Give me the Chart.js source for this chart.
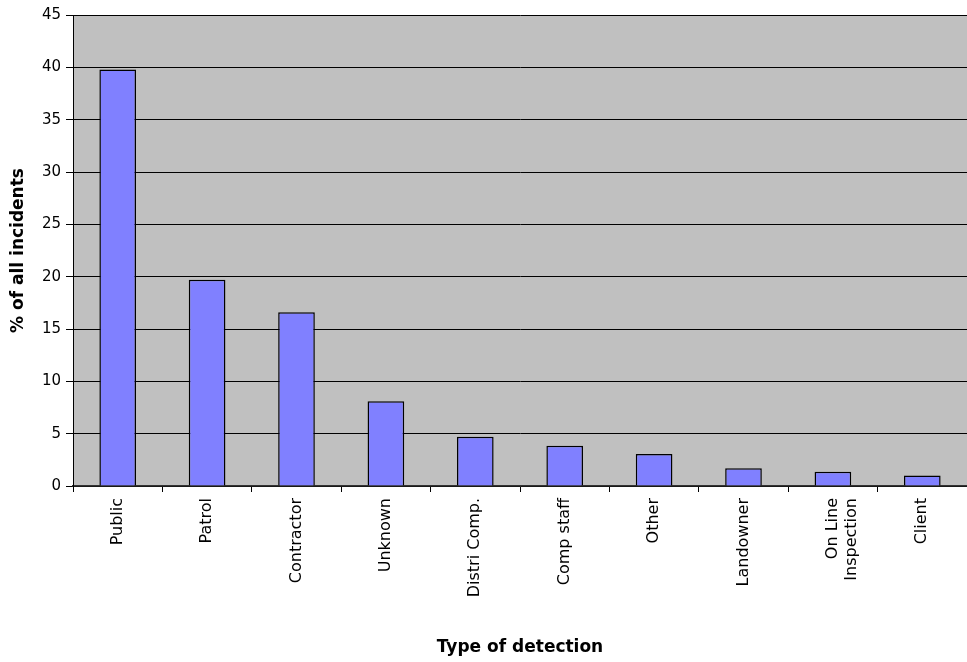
<!DOCTYPE html>
<html>
<head>
<meta charset="utf-8">
<script src="https://cdn.jsdelivr.net/npm/chart.js@4/dist/chart.umd.min.js"></script>
<style>
  html, body { margin: 0; padding: 0; background: #ffffff; }
  #wrap { width: 967px; height: 662px; position: relative; }
</style>
</head>
<body>
<div id="wrap"><canvas id="c" width="967" height="662"></canvas></div>
<script>
// Detection types and their share of all incidents (%)
const categories = [
  'Public', 'Patrol', 'Contractor', 'Unknown', 'Distri Comp.',
  'Comp staff', 'Other', 'Landowner', ['On Line', 'Inspection'], 'Client'
];
const shareOfIncidents = [39.8, 19.7, 16.6, 8.1, 4.7, 3.85, 3.05, 1.7, 1.35, 1.0];
const yTicks = [0, 5, 10, 15, 20, 25, 30, 35, 40, 45];

const xTitle = 'Type of detection';
const yTitle = '% of all incidents';

// Grey plot background behind the bars
const plotBackground = {
  id: 'plotBackground',
  beforeDraw(chart) {
    const { ctx, chartArea: a } = chart;
    ctx.save();
    ctx.fillStyle = '#c0c0c0';
    ctx.fillRect(a.left, a.top, a.right - a.left, a.bottom - a.top);
    ctx.restore();
  }
};

new Chart(document.getElementById('c'), {
  type: 'bar',
  data: {
    labels: categories,
    datasets: [{
      data: shareOfIncidents,
      backgroundColor: '#8080ff',
      borderColor: '#000000',
      borderWidth: 1.5,
      barPercentage: 0.41,
      categoryPercentage: 1.0
    }]
  },
  options: {
    responsive: false,
    animation: false,
    devicePixelRatio: 1,
    layout: { padding: { top: 15, right: 0, bottom: 0, left: 0 } },
    plugins: {
      legend: { display: false },
      tooltip: { enabled: false }
    },
    scales: {
      x: {
        offset: true,
        afterFit(scale) { scale.height = 176; },
        grid: {
          offset: true,
          drawOnChartArea: false,
          drawTicks: true,
          tickLength: 6,
          color: '#000000',
          lineWidth: 1
        },
        border: { color: '#333333', width: 1.5 },
        ticks: {
          autoSkip: false,
          maxRotation: 90,
          minRotation: 90,
          padding: 6,
          color: '#000000',
          font: { family: 'DejaVu Sans', size: 16 }
        },
        title: {
          display: true,
          text: xTitle,
          color: '#000000',
          padding: { top: 0, bottom: 4 },
          font: { family: 'DejaVu Sans', size: 17, weight: 'bold' }
        }
      },
      y: {
        min: 0,
        max: 45,
        afterFit(scale) { scale.width = 73; },
        afterBuildTicks(scale) { scale.ticks = yTicks.map(v => ({ value: v })); },
        grid: {
          color: '#000000',
          lineWidth: 1,
          tickLength: 7
        },
        border: { color: '#000000', width: 1 },
        ticks: {
          padding: 5,
          color: '#000000',
          font: { family: 'DejaVu Sans', size: 15 }
        },
        title: {
          display: true,
          text: yTitle,
          color: '#000000',
          padding: { top: 8, bottom: 0 },
          font: { family: 'DejaVu Sans', size: 17, weight: 'bold' }
        }
      }
    }
  },
  plugins: [plotBackground]
});
</script>
</body>
</html>
